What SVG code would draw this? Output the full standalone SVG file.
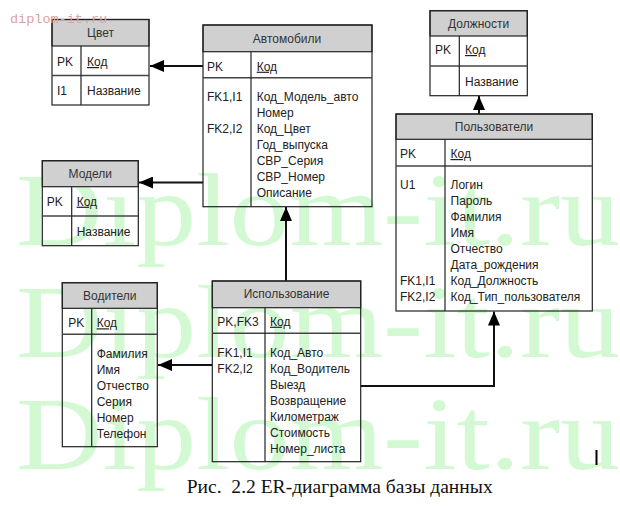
<svg xmlns="http://www.w3.org/2000/svg" width="620" height="509" viewBox="0 0 620 509">
<style>
.wm{font-family:"Liberation Serif","Times New Roman",serif;font-size:104px;fill:#d3f9d3}
.tb{fill:none;stroke:#222;stroke-width:1.2}
.hd{fill:#d0d0d0;stroke:#222;stroke-width:1.2}
.sep{stroke:#444;stroke-width:1.4;fill:none}
.dv{stroke:#222;stroke-width:1.2}
text.h{font-family:"Liberation Sans",Arial,sans-serif;font-size:12px;fill:#333;text-anchor:middle}
text.t{font-family:"Liberation Sans",Arial,sans-serif;font-size:12px;fill:#222}
text.u{text-decoration:underline}
.cn{stroke:#111;stroke-width:2;fill:none}
</style>
<defs>
<marker id="arr" markerWidth="14" markerHeight="12" refX="14" refY="6" orient="auto" markerUnits="userSpaceOnUse">
<path d="M0,0 L14,6 L0,12 z" fill="#000"/>
</marker>
</defs>
<rect width="620" height="509" fill="#fff"/>
<g id="watermark">
<text class="wm" x="16" y="245" textLength="604" lengthAdjust="spacingAndGlyphs">Diplom-it.ru</text>
<text class="wm" x="16" y="357" textLength="604" lengthAdjust="spacingAndGlyphs">Diplom-it.ru</text>
<text class="wm" x="16" y="469" textLength="604" lengthAdjust="spacingAndGlyphs">Diplom-it.ru</text>
</g>
<g id="connectors">
<line class="cn" x1="203" y1="66" x2="150" y2="66" marker-end="url(#arr)"/>
<line class="cn" x1="203" y1="182.5" x2="139" y2="182.5" marker-end="url(#arr)"/>
<line class="cn" x1="286" y1="281" x2="286" y2="207" marker-end="url(#arr)"/>
<line class="cn" x1="212" y1="365" x2="158" y2="365" marker-end="url(#arr)"/>
<polyline class="cn" points="361,386 494,386 494,311.5" marker-end="url(#arr)"/>
<line class="cn" x1="479" y1="114" x2="479" y2="96" marker-end="url(#arr)"/>
</g>
<g id="tsvet">
<rect class="hd" x="52" y="19.5" width="97" height="26.5"/>
<rect class="tb" x="52" y="19.5" width="97" height="85.5"/>
<line class="sep" x1="52" y1="75.5" x2="149" y2="75.5"/>
<line class="dv" x1="81" y1="46" x2="81" y2="105"/>
<text class="h" x="100.5" y="37">Цвет</text>
<text class="t" x="57" y="66">PK</text>
<text class="t u" x="87" y="66">Код</text>
<text class="t" x="57" y="95">I1</text>
<text class="t" x="87" y="95">Название</text>
</g>
<g id="avtomobili">
<rect class="hd" x="203" y="25" width="169" height="26.7"/>
<rect class="tb" x="203" y="25" width="169" height="181.7"/>
<line class="sep" x1="203" y1="77.7" x2="372" y2="77.7"/>
<line class="dv" x1="251" y1="51.7" x2="251" y2="206.7"/>
<text class="h" x="287" y="43">Автомобили</text>
<text class="t" x="207" y="70.7">PK</text>
<text class="t u" x="256.7" y="70.7">Код</text>
<text class="t" x="207" y="100.5">FK1,I1</text>
<text class="t" x="207" y="132.5">FK2,I2</text>
<text class="t" x="256.7" y="100.5">Код_Модель_авто</text>
<text class="t" x="256.7" y="116.5">Номер</text>
<text class="t" x="256.7" y="132.5">Код_Цвет</text>
<text class="t" x="256.7" y="148.5">Год_выпуска</text>
<text class="t" x="256.7" y="164.5">СВР_Серия</text>
<text class="t" x="256.7" y="180.5">СВР_Номер</text>
<text class="t" x="256.7" y="196.5">Описание</text>
</g>
<g id="dolzhnosti">
<rect class="hd" x="430" y="10.7" width="97.3" height="25.3"/>
<rect class="tb" x="430" y="10.7" width="97.3" height="85"/>
<line class="sep" x1="430" y1="66" x2="527.3" y2="66"/>
<line class="dv" x1="459.3" y1="36" x2="459.3" y2="95.7"/>
<text class="h" x="478.6" y="28">Должности</text>
<text class="t" x="435" y="54">PK</text>
<text class="t u" x="465" y="54">Код</text>
<text class="t" x="465" y="85.7">Название</text>
</g>
<g id="polzovateli">
<rect class="hd" x="396" y="114" width="196.3" height="25.3"/>
<rect class="tb" x="396" y="114" width="196.3" height="197"/>
<line class="sep" x1="396" y1="166" x2="592.3" y2="166"/>
<line class="dv" x1="445" y1="139.3" x2="445" y2="311"/>
<text class="h" x="494" y="131.3">Пользователи</text>
<text class="t" x="400" y="158">PK</text>
<text class="t u" x="450.5" y="158">Код</text>
<text class="t" x="400" y="188.5">U1</text>
<text class="t" x="400" y="284.5">FK1,I1</text>
<text class="t" x="400" y="300.5">FK2,I2</text>
<text class="t" x="450.5" y="188.5">Логин</text>
<text class="t" x="450.5" y="204.5">Пароль</text>
<text class="t" x="450.5" y="220.5">Фамилия</text>
<text class="t" x="450.5" y="236.5">Имя</text>
<text class="t" x="450.5" y="252.5">Отчество</text>
<text class="t" x="450.5" y="268.5">Дата_рождения</text>
<text class="t" x="450.5" y="284.5">Код_Должность</text>
<text class="t" x="450.5" y="300.5">Код_Тип_пользователя</text>
</g>
<g id="modeli">
<rect class="hd" x="42.3" y="160.7" width="96" height="26"/>
<rect class="tb" x="42.3" y="160.7" width="96" height="85"/>
<line class="sep" x1="42.3" y1="216" x2="138.3" y2="216"/>
<line class="dv" x1="71.7" y1="186.7" x2="71.7" y2="245.7"/>
<text class="h" x="90.3" y="178">Модели</text>
<text class="t" x="46.7" y="205.7">PK</text>
<text class="t u" x="76.7" y="205.7">Код</text>
<text class="t" x="76.7" y="235.7">Название</text>
</g>
<g id="voditeli">
<rect class="hd" x="62.3" y="282.7" width="95" height="25.6"/>
<rect class="tb" x="62.3" y="282.7" width="95" height="164"/>
<line class="sep" x1="62.3" y1="334.3" x2="157.3" y2="334.3"/>
<line class="dv" x1="91.7" y1="308.3" x2="91.7" y2="446.7"/>
<text class="h" x="109.8" y="300">Водители</text>
<text class="t" x="68.3" y="327.3">PK</text>
<text class="t u" x="96.7" y="327.3">Код</text>
<text class="t" x="96.7" y="358">Фамилия</text>
<text class="t" x="96.7" y="374">Имя</text>
<text class="t" x="96.7" y="390">Отчество</text>
<text class="t" x="96.7" y="406">Серия</text>
<text class="t" x="96.7" y="422">Номер</text>
<text class="t" x="96.7" y="438">Телефон</text>
</g>
<g id="ispolzovanie">
<rect class="hd" x="212.3" y="281" width="148.4" height="26.7"/>
<rect class="tb" x="212.3" y="281" width="148.4" height="180.7"/>
<line class="sep" x1="212.3" y1="333.3" x2="360.7" y2="333.3"/>
<line class="dv" x1="265" y1="307.7" x2="265" y2="461.7"/>
<text class="h" x="286.5" y="298.3">Использование</text>
<text class="t" x="217.3" y="325.7">PK,FK3</text>
<text class="t u" x="270" y="325.7">Код</text>
<text class="t" x="217.3" y="357.3">FK1,I1</text>
<text class="t" x="217.3" y="373.3">FK2,I2</text>
<text class="t" x="270" y="357.3">Код_Авто</text>
<text class="t" x="270" y="373.3">Код_Водитель</text>
<text class="t" x="270" y="389.3">Выезд</text>
<text class="t" x="270" y="405.3">Возвращение</text>
<text class="t" x="270" y="421.3">Километраж</text>
<text class="t" x="270" y="437.3">Стоимость</text>
<text class="t" x="270" y="453.3">Номер_листа</text>
</g>
<rect x="595.5" y="450" width="2" height="15" fill="#000"/>
<text x="186.7" y="493" textLength="306" lengthAdjust="spacingAndGlyphs" style="font-family:'Liberation Serif','Times New Roman',serif;font-size:19px;fill:#111;white-space:pre">Рис.  2.2 ER-диаграмма базы данных</text>
<text x="10" y="23" style="font-family:'Liberation Mono','Courier New',monospace;font-size:13.5px;fill:#dba3a3">diplom-it.ru</text>
</svg>
